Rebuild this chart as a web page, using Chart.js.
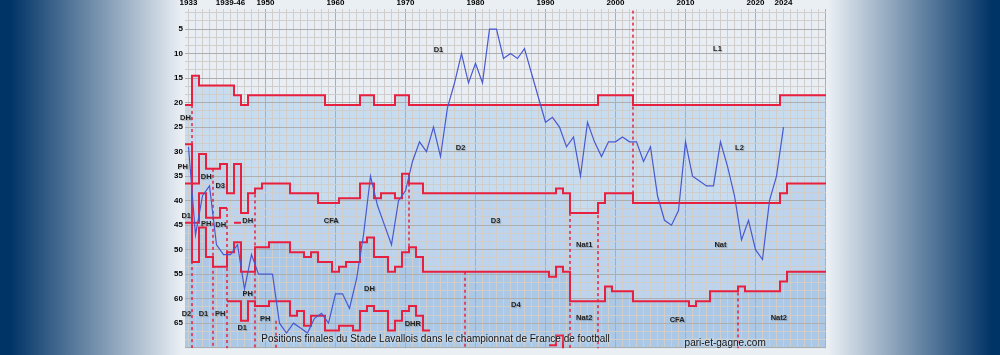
<!DOCTYPE html>
<html><head><meta charset="utf-8">
<script src="https://cdn.jsdelivr.net/npm/chart.js@4.4.1/dist/chart.umd.min.js"></script>
<style>
html,body{margin:0;padding:0;}
body{width:1000px;height:355px;overflow:hidden;background:linear-gradient(to right,#003366 0px,#003366 10px,#eaeff4 182px,#eaeff4 828px,#003366 992px,#003366 1000px);}
#wrap{position:relative;width:1000px;height:355px;}
#wrap canvas{position:absolute;left:0;top:0;}
</style></head><body>
<div id="wrap"><canvas id="bg" width="1000" height="355"></canvas><canvas id="fg" width="1000" height="355"></canvas></div>
<script>
// ---- top axis labels (season columns; war years 1939-46 collapsed into one column) ----
const xTickYears = [1939,1945,1950,1960,1970,1980,1990,2000,2010,2020,2024];
const xTickText  = ['1933','1939-46','1950','1960','1970','1980','1990','2000','2010','2020','2024'];
const yTickValues = [5,10,15,20,25,30,35,40,45,50,55,60,65];

// ---- final position of Stade Lavallois, one value per season column starting at column 1939 ----
const firstSeason = 1939;
const positions = [29,47,39,37,49,51,51,49,58,51, 55,55,55,65,67,65,66,67,64,63,
                   65,59,59,62,56,47,35,41,45,49, 40,38,32,28,30,25,31,21,16,10,
                   16,12,16,5,5,11,10,11,9,14, 19,24,23,25,29,27,35,24,28,31,
                   28,28,27,28,28,32,29,39,44,45, 42,28,35,36,37,37,28,33,39,48,
                   44,50,52,40,35,25];

// ---- division boundaries: [first season column, cumulative boundary], null = line stops ----
const d1Bottom = [[1939,20.5],[1940,14.5],[1941,16.5],[1946,18.5],[1947,20.5],[1948,18.5],[1959,20.5],[1964,18.5],[1966,20.5],[1969,18.5],[1971,20.5],[1998,18.5],[2003,20.5],[2024,18.5]];
const d2Bottom = [[1939,36.5],[1941,30.5],[1942,33.5],[1944,32.5],[1945,38.5],[1946,32.5],[1947,42.5],[1948,38.5],[1949,37.5],[1950,36.5],[1954,38.5],[1958,40.5],[1961,39.5],[1964,36.5],[1966,39.5],[1967,38.5],[1969,39.5],[1970,34.5],[1971,36.5],[1973,38.5],[1992,37.5],[1993,38.5],[1994,42.5],[1998,40.5],[1999,38.5],[2003,40.5],[2024,38.5],[2025,36.5]];
const regionalBottom = [[1939,28.5],[1940,44.5],[1941,38.5],[1942,43.5],[1944,41.5],[1945,null],[1946,44.5],[1947,null]];
const d3Bottom = [[1939,44.5],[1940,52.5],[1941,45.5],[1942,51.5],[1943,53.5],[1945,50.5],[1946,48.5],[1947,54.5],[1949,49.5],[1951,48.5],[1954,50.5],[1956,51.5],[1957,50.5],[1958,52.5],[1960,54.5],[1961,53.5],[1962,52.5],[1964,48.5],[1965,47.5],[1966,51.5],[1968,54.5],[1969,53.5],[1970,50.5],[1971,49.5],[1972,51.5],[1973,54.5],[1991,55.5],[1992,53.5],[1993,54.5],[1994,60.5],[1999,57.5],[2000,58.5],[2003,60.5],[2011,61.5],[2012,60.5],[2014,58.5],[2018,57.5],[2019,58.5],[2024,56.5],[2025,54.5]];
const d4Bottom = [[1945,60.5],[1947,64.5],[1948,60.5],[1949,61.5],[1951,60.5],[1954,63.5],[1955,62.5],[1956,65.5],[1957,63.5],[1959,66.5],[1961,65.5],[1963,66.5],[1964,62.5],[1965,61.5],[1966,62.5],[1968,66.5],[1969,64.5],[1970,62.5],[1971,61.5],[1972,63.5],[1973,66.5],[1974,null]];
const d5Bottom = [[1991,69.5],[1992,67.5],[1993,70.5],[1994,null]];

// ---- league reorganisations (dotted): first season after change, from / to boundary ----
const reorgSeason = [1940,1943,1945,1949,1952,1971,1979,1994,1998,2003,2018];
const reorgFrom   = [20.5,33.5,41.5,37.5,64.5,36.5,54.5,42.5,40.5,0,57.5];
const reorgTo     = [72,72,72,72,72,49.5,72,72,72,38.5,72];

// ---- division names [text, column, level] ----
const divLabels = [
 ['D1',1974.71,9.2],['L1',2014.57,9.1],['D2',1977.86,29.2],['L2',2017.71,29.2],
 ['D3',1982.86,44.2],['CFA',1959.39,44.2],['Nat',2015,49.1],['Nat1',1995.53,49.1],
 ['D4',1985.76,61.2],['Nat2',1995.53,64.0],['Nat2',2023.33,64.0],['CFA',2008.81,64.4],
 ['DHR',1971.04,65.1],['DH',1964.86,58.1],['PH',1949.96,64.1],['D1',1946.67,66.0],
 ['PH',1947.47,59.0],['D2',1938.71,63.2],['D1',1941.14,63.2],['PH',1943.53,63.2],
 ['DH',1938.57,23.1],['PH',1938.19,33.2],['D1',1938.67,43.2],['DH',1941.53,35.1],
 ['D3',1943.53,37.0],['PH',1941.53,44.7],['DH',1943.6,45.0],['DH',1947.46,44.1]
];
const titleText = 'Positions finales du Stade Lavallois dans le championnat de France de football';
const creditText = 'pari-et-gagne.com';

// ---------------- rendering ----------------
const X_MIN = 1938.5, X_MAX = 1938.5 + 641 / 7, Y_MIN = 0.9, Y_MAX = 70.1, LAST = 2031;
const RED = '#e8203f', BLUE = '#4a58d0';

function stepPoints(changes){
  const pts = [];
  for (let i = 0; i < changes.length; i++){
    const [s, v] = changes[i];
    const next = i + 1 < changes.length ? changes[i+1] : [LAST, null];
    if (v === null){ pts.push({x: s - 0.5, y: null}); continue; }
    pts.push({x: s - 0.5, y: v});
    if (next[1] === null) pts.push({x: next[0] - 0.5, y: v});
  }
  return pts;
}
const posPoints = positions.map((p, i) => ({x: firstSeason + i, y: p}));

function makeScales(withGrid, withTicks){
  const tickFont = {family: 'Liberation Sans', size: 8, weight: 'bold'};
  const minor = '#d1cdca', major = '#aeaeae';
  return {
    x: {type: 'linear', position: 'top', min: X_MIN, max: X_MAX,
        afterBuildTicks: s => { const t = []; for (let v = 1939; v <= 2030; v++) t.push({value: v}); s.ticks = t; },
        afterFit: s => { s.height = 9; },
        ticks: {autoSkip: false, maxRotation: 0, minRotation: 0, padding: 1, color: withTicks ? '#000' : 'rgba(0,0,0,0)', font: tickFont,
                callback: v => { const i = xTickYears.indexOf(v); return i >= 0 ? xTickText[i] : ''; }},
        grid: {display: withGrid, drawTicks: false, lineWidth: 1,
               color: c => (c.tick && c.tick.value >= 1950 && c.tick.value % 10 === 0) ? major : minor},
        border: {display: false}},
    y: {type: 'linear', reverse: true, min: Y_MIN, max: Y_MAX,
        afterBuildTicks: s => { const t = []; for (let k = 1; k <= 42; k++) t.push({value: k * 5 / 3}); s.ticks = t; },
        afterFit: s => { s.width = 185; },
        ticks: {autoSkip: false, padding: 2, color: withTicks ? '#000' : 'rgba(0,0,0,0)', font: tickFont,
                callback: v => { const r = Math.round(v); return (Math.abs(v - r) < 1e-6 && yTickValues.includes(r)) ? String(r) : ''; }},
        grid: {display: withGrid, drawTicks: false, lineWidth: 1,
               color: c => { const v = c.tick ? c.tick.value : 0; const r = Math.round(v); return (Math.abs(v - r) < 1e-6 && r % 5 === 0) ? major : minor; }},
        border: {display: false}}
  };
}
const baseOpts = (withGrid, withTicks) => ({
  responsive: false, animation: false, events: [],
  layout: {padding: {left: 0, right: 174, top: 0, bottom: 0}},
  plugins: {legend: {display: false}, tooltip: {enabled: false}},
  elements: {point: {radius: 0}, line: {tension: 0}},
  scales: makeScales(withGrid, withTicks)
});

// background chart: division areas
const areaBg = {id: 'areaBg', beforeDatasetsDraw(chart){
  const {ctx, chartArea: a} = chart; ctx.save(); ctx.fillStyle = '#e9eef5';
  ctx.fillRect(a.left, a.top, a.right - a.left, a.bottom - a.top); ctx.restore(); }};
function fillSet(changes, color, order){
  return {data: stepPoints(changes), stepped: true, borderWidth: 0, borderColor: 'rgba(0,0,0,0)',
          backgroundColor: color, fill: {value: 90}, order: order, spanGaps: false};
}
new Chart(document.getElementById('bg'), {
  type: 'line',
  data: {datasets: [fillSet(d3Bottom, '#abc9e7', 1), fillSet(d2Bottom, '#bdd4ec', 2), fillSet(d1Bottom, '#c8dcf0', 3)]},
  options: baseOpts(false, false),
  plugins: [areaBg]
});

// foreground chart: grid, boundaries, position line, texts
function redSet(changes){
  return {data: stepPoints(changes), stepped: true, borderColor: RED, borderWidth: 2, fill: false, spanGaps: false, order: 2};
}
const dotted = reorgSeason.map((s, i) => ({
  data: [{x: s - 0.5, y: reorgFrom[i]}, {x: s - 0.5, y: reorgTo[i]}],
  borderColor: RED, borderWidth: 1.5, borderDash: [3, 3], fill: false, order: 3}));
const textPlugin = {id: 'texts', afterDatasetsDraw(chart){
  const {ctx, scales: {x, y}} = chart;
  ctx.save();
  ctx.textAlign = 'center'; ctx.textBaseline = 'middle';
  ctx.font = 'bold 7.5px "Liberation Sans"'; ctx.fillStyle = '#222';
  ctx.shadowColor = 'rgba(0,0,0,0.25)'; ctx.shadowOffsetX = 1; ctx.shadowOffsetY = 1; ctx.shadowBlur = 1;
  divLabels.forEach(([t, c, p]) => ctx.fillText(t, x.getPixelForValue(c), y.getPixelForValue(p)));
  ctx.shadowColor = 'rgba(255,255,255,0.9)'; ctx.shadowOffsetX = 0; ctx.shadowOffsetY = 0; ctx.shadowBlur = 3;
  ctx.font = '10px "Liberation Sans"'; ctx.fillStyle = '#111';
  ctx.fillText(titleText, x.getPixelForValue(1974.29), y.getPixelForValue(68.2));
  ctx.fillText(creditText, x.getPixelForValue(2015.67), y.getPixelForValue(69.0));
  ctx.restore();
}};
new Chart(document.getElementById('fg'), {
  type: 'line',
  data: {datasets: [
    {data: posPoints, borderColor: BLUE, borderWidth: 1.2, fill: false, order: 1},
    redSet(d1Bottom), redSet(d2Bottom), redSet(regionalBottom), redSet(d3Bottom), redSet(d4Bottom), redSet(d5Bottom),
    ...dotted
  ]},
  options: baseOpts(true, true),
  plugins: [textPlugin]
});
</script></body></html>
